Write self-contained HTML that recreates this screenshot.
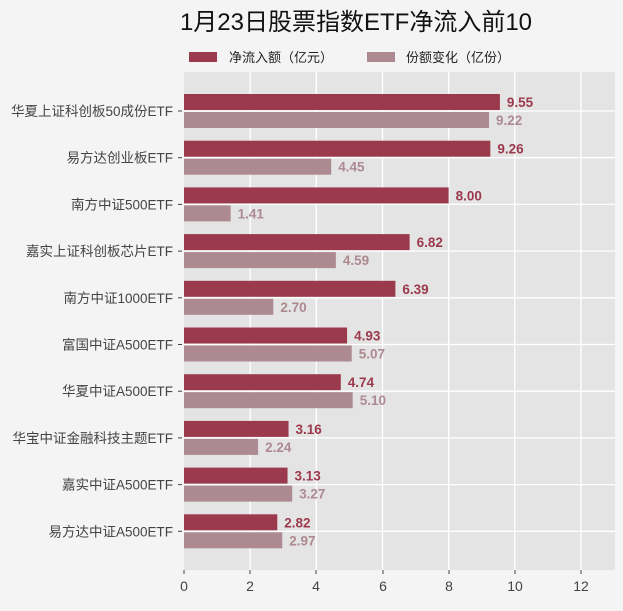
<!DOCTYPE html><html><head><meta charset="utf-8"><style>body{margin:0;background:#f4f4f4;font-family:"Liberation Sans","Noto Sans CJK SC",sans-serif}</style></head><body>
<svg width="623" height="606" xmlns="http://www.w3.org/2000/svg" font-family="Liberation Sans, Noto Sans CJK SC, sans-serif">
<rect width="623" height="606" fill="#f4f4f4"/>
<text x="356" y="30" font-size="24" text-anchor="middle" fill="#111">1月23日股票指数ETF净流入前10</text>
<rect x="189" y="52" width="28" height="10" fill="#9b3a4d"/><text x="229" y="62" font-size="13" fill="#222">净流入额（亿元）</text>
<rect x="367" y="52" width="28" height="10" fill="#ad8a92"/><text x="406" y="62" font-size="13" fill="#222">份额变化（亿份）</text>
<rect x="184" y="72" width="431" height="498" fill="#e4e4e4"/>
<g stroke="#fff" stroke-width="1.3">
<line x1="250.2" y1="72" x2="250.2" y2="570"/><line x1="316.3" y1="72" x2="316.3" y2="570"/><line x1="382.5" y1="72" x2="382.5" y2="570"/><line x1="448.7" y1="72" x2="448.7" y2="570"/><line x1="514.8" y1="72" x2="514.8" y2="570"/><line x1="581" y1="72" x2="581" y2="570"/>
</g>
<g id="rows"></g>
<g font-size="14" fill="#444" text-anchor="middle">
<text x="184" y="591">0</text><text x="250" y="591">2</text><text x="316" y="591">4</text><text x="383" y="591">6</text><text x="449" y="591">8</text><text x="515" y="591">10</text><text x="581" y="591">12</text></g>
<g stroke="#444"><line x1="184" y1="570" x2="184" y2="574"/><line x1="250" y1="570" x2="250" y2="574"/><line x1="316" y1="570" x2="316" y2="574"/><line x1="383" y1="570" x2="383" y2="574"/><line x1="449" y1="570" x2="449" y2="574"/><line x1="515" y1="570" x2="515" y2="574"/><line x1="581" y1="570" x2="581" y2="574"/></g>
</svg>
<script>
var d=[["华夏上证科创板50成份ETF",9.55,9.22],["易方达创业板ETF",9.26,4.45],["南方中证500ETF",8.00,1.41],["嘉实上证科创板芯片ETF",6.82,4.59],["南方中证1000ETF",6.39,2.70],["富国中证A500ETF",4.93,5.07],["华夏中证A500ETF",4.74,5.10],["华宝中证金融科技主题ETF",3.16,2.24],["嘉实中证A500ETF",3.13,3.27],["易方达中证A500ETF",2.82,2.97]];
var s="",x0=184,k=33.08;
d.forEach(function(r,i){var c=111+i*46.7;
s+='<line x1="184" y1="'+c+'" x2="615" y2="'+c+'" stroke="#fff" stroke-width="1.3"/>';
s+='<rect x="184" y="'+(c-17)+'" width="'+(r[1]*k)+'" height="16" fill="#9b3a4d"/>';
s+='<rect x="184" y="'+(c+1)+'" width="'+(r[2]*k)+'" height="16" fill="#ad8a92"/>';
s+='<text x="'+(x0+r[1]*k+7)+'" y="'+(c-4)+'" font-size="13.5" font-weight="bold" fill="#9b3a4d">'+r[1].toFixed(2)+'</text>';
s+='<text x="'+(x0+r[2]*k+7)+'" y="'+(c+14)+'" font-size="13.5" font-weight="bold" fill="#ad8a92">'+r[2].toFixed(2)+'</text>';
s+='<text x="173" y="'+(c+5)+'" font-size="13.5" fill="#444" text-anchor="end">'+r[0]+'</text>';
s+='<line x1="178" y1="'+c+'" x2="182" y2="'+c+'" stroke="#444"/>';});
document.getElementById("rows").innerHTML=s;
</script>
</body></html>
